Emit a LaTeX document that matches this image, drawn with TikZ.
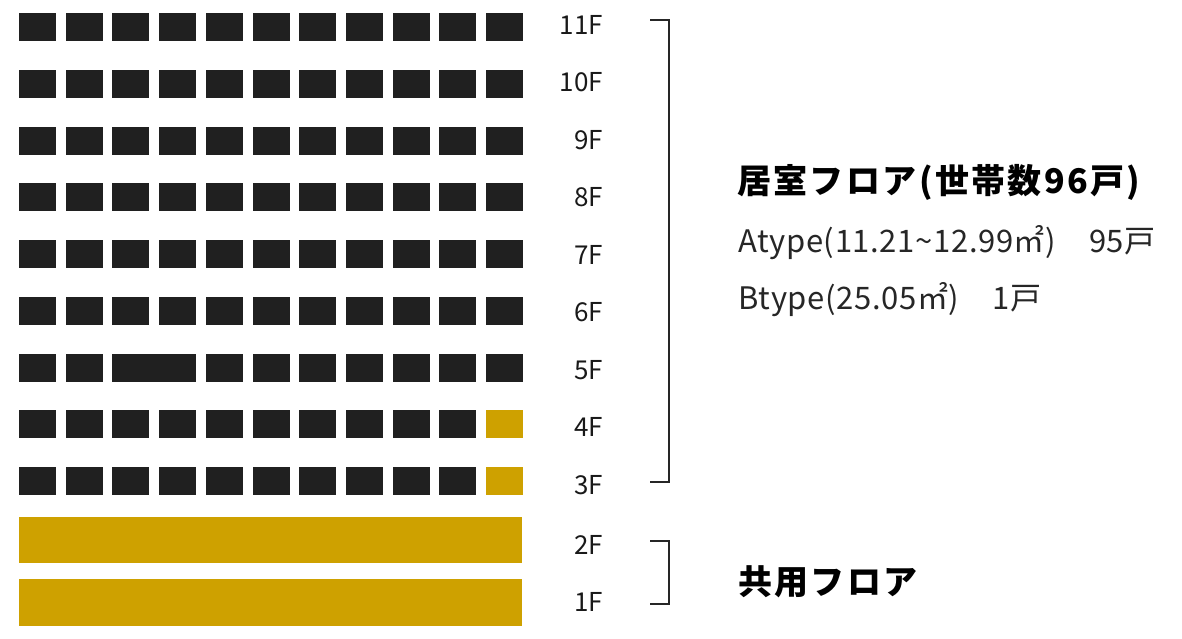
\documentclass[tikz,border=0pt]{standalone}
\usepackage{fontspec}
\setmainfont{Noto Sans CJK JP}
\definecolor{dark}{RGB}{32,32,32}
\definecolor{gold}{RGB}{206,161,0}
\begin{document}
\begin{tikzpicture}[x=1pt,y=-1pt,
  room/.style={fill=dark},
  shared/.style={fill=gold},
  floorlab/.style={anchor=base east,inner sep=0pt,font=\fontsize{26}{26}\selectfont,text=black!90},
  bracket/.style={draw=black!85,line width=1.8pt},
  headtxt/.style={anchor=base west,inner sep=0pt,font=\bfseries\fontsize{34}{34}\selectfont\addfontfeature{LetterSpace=7}},
  subtxt/.style={anchor=base west,inner sep=0pt,font=\fontsize{31}{31}\selectfont\addfontfeature{LetterSpace=2},text=black!85}]
\useasboundingbox (0,0) rectangle (1182,638);
% residential rows 11F..3F
\foreach \r in {0,1,2,3,4,5,6,7,8}{
  \foreach \i in {0,1,4,5,6,7,8,9}{
    \pgfmathsetmacro\xa{19+46.7*\i}
    \pgfmathsetmacro\ya{13+56.75*\r}
    \fill[room] (\xa,\ya) rectangle ++(37,28);
  }
}
\foreach \r in {0,1,2,3,4,5,7,8}{
  \foreach \i in {2,3}{
    \pgfmathsetmacro\xa{19+46.7*\i}
    \pgfmathsetmacro\ya{13+56.75*\r}
    \fill[room] (\xa,\ya) rectangle ++(37,28);
  }
}
\fill[room] (112.4,{13+56.75*6}) rectangle (196.1,{13+56.75*6+28});
\foreach \r in {0,1,2,3,4,5,6}{
  \pgfmathsetmacro\ya{13+56.75*\r}
  \fill[room] (486,\ya) rectangle ++(37,28);
}
\foreach \r in {7,8}{
  \pgfmathsetmacro\ya{13+56.75*\r}
  \fill[shared] (486,\ya) rectangle ++(37,28);
}
% shared floors
\fill[shared] (19,517) rectangle (522,563);
\fill[shared] (19,579) rectangle (522,626);
% floor labels
\node[floorlab] (f11) at (603,34) {11F};
\node[floorlab] (f10) at (603,91.5) {10F};
\node[floorlab] (f9) at (603,149) {9F};
\node[floorlab] (f8) at (603,206.5) {8F};
\node[floorlab] (f7) at (603,264) {7F};
\node[floorlab] (f6) at (603,321.5) {6F};
\node[floorlab] (f5) at (603,379) {5F};
\node[floorlab] (f4) at (603,436.5) {4F};
\node[floorlab] (f3) at (603,494) {3F};
\node[floorlab] (f2) at (603,554) {2F};
\node[floorlab] (f1) at (603,611) {1F};
% brackets
\coordinate (b1a) at (650,20);
\coordinate (b1b) at (669,20);
\coordinate (b1c) at (669,482);
\coordinate (b1d) at (650,482);
\draw[bracket] (b1a) -- (b1b) -- (b1c) -- (b1d);
\coordinate (b2a) at (650,541);
\coordinate (b2b) at (669,541);
\coordinate (b2c) at (669,604);
\coordinate (b2d) at (650,604);
\draw[bracket] (b2a) -- (b2b) -- (b2c) -- (b2d);
% texts
\node[headtxt] (h1) at (737,193) {居室フロア(世帯数96戸)};
\node[subtxt] (s1) at (738,252) {Atype(11.21\textasciitilde 12.99㎡)\hspace{33pt}95戸};
\node[subtxt] (s2) at (738,309) {Btype(25.05㎡)\hspace{33pt}1戸};
\node[headtxt] (h2) at (738,594) {共用フロア};
\end{tikzpicture}
\end{document}
